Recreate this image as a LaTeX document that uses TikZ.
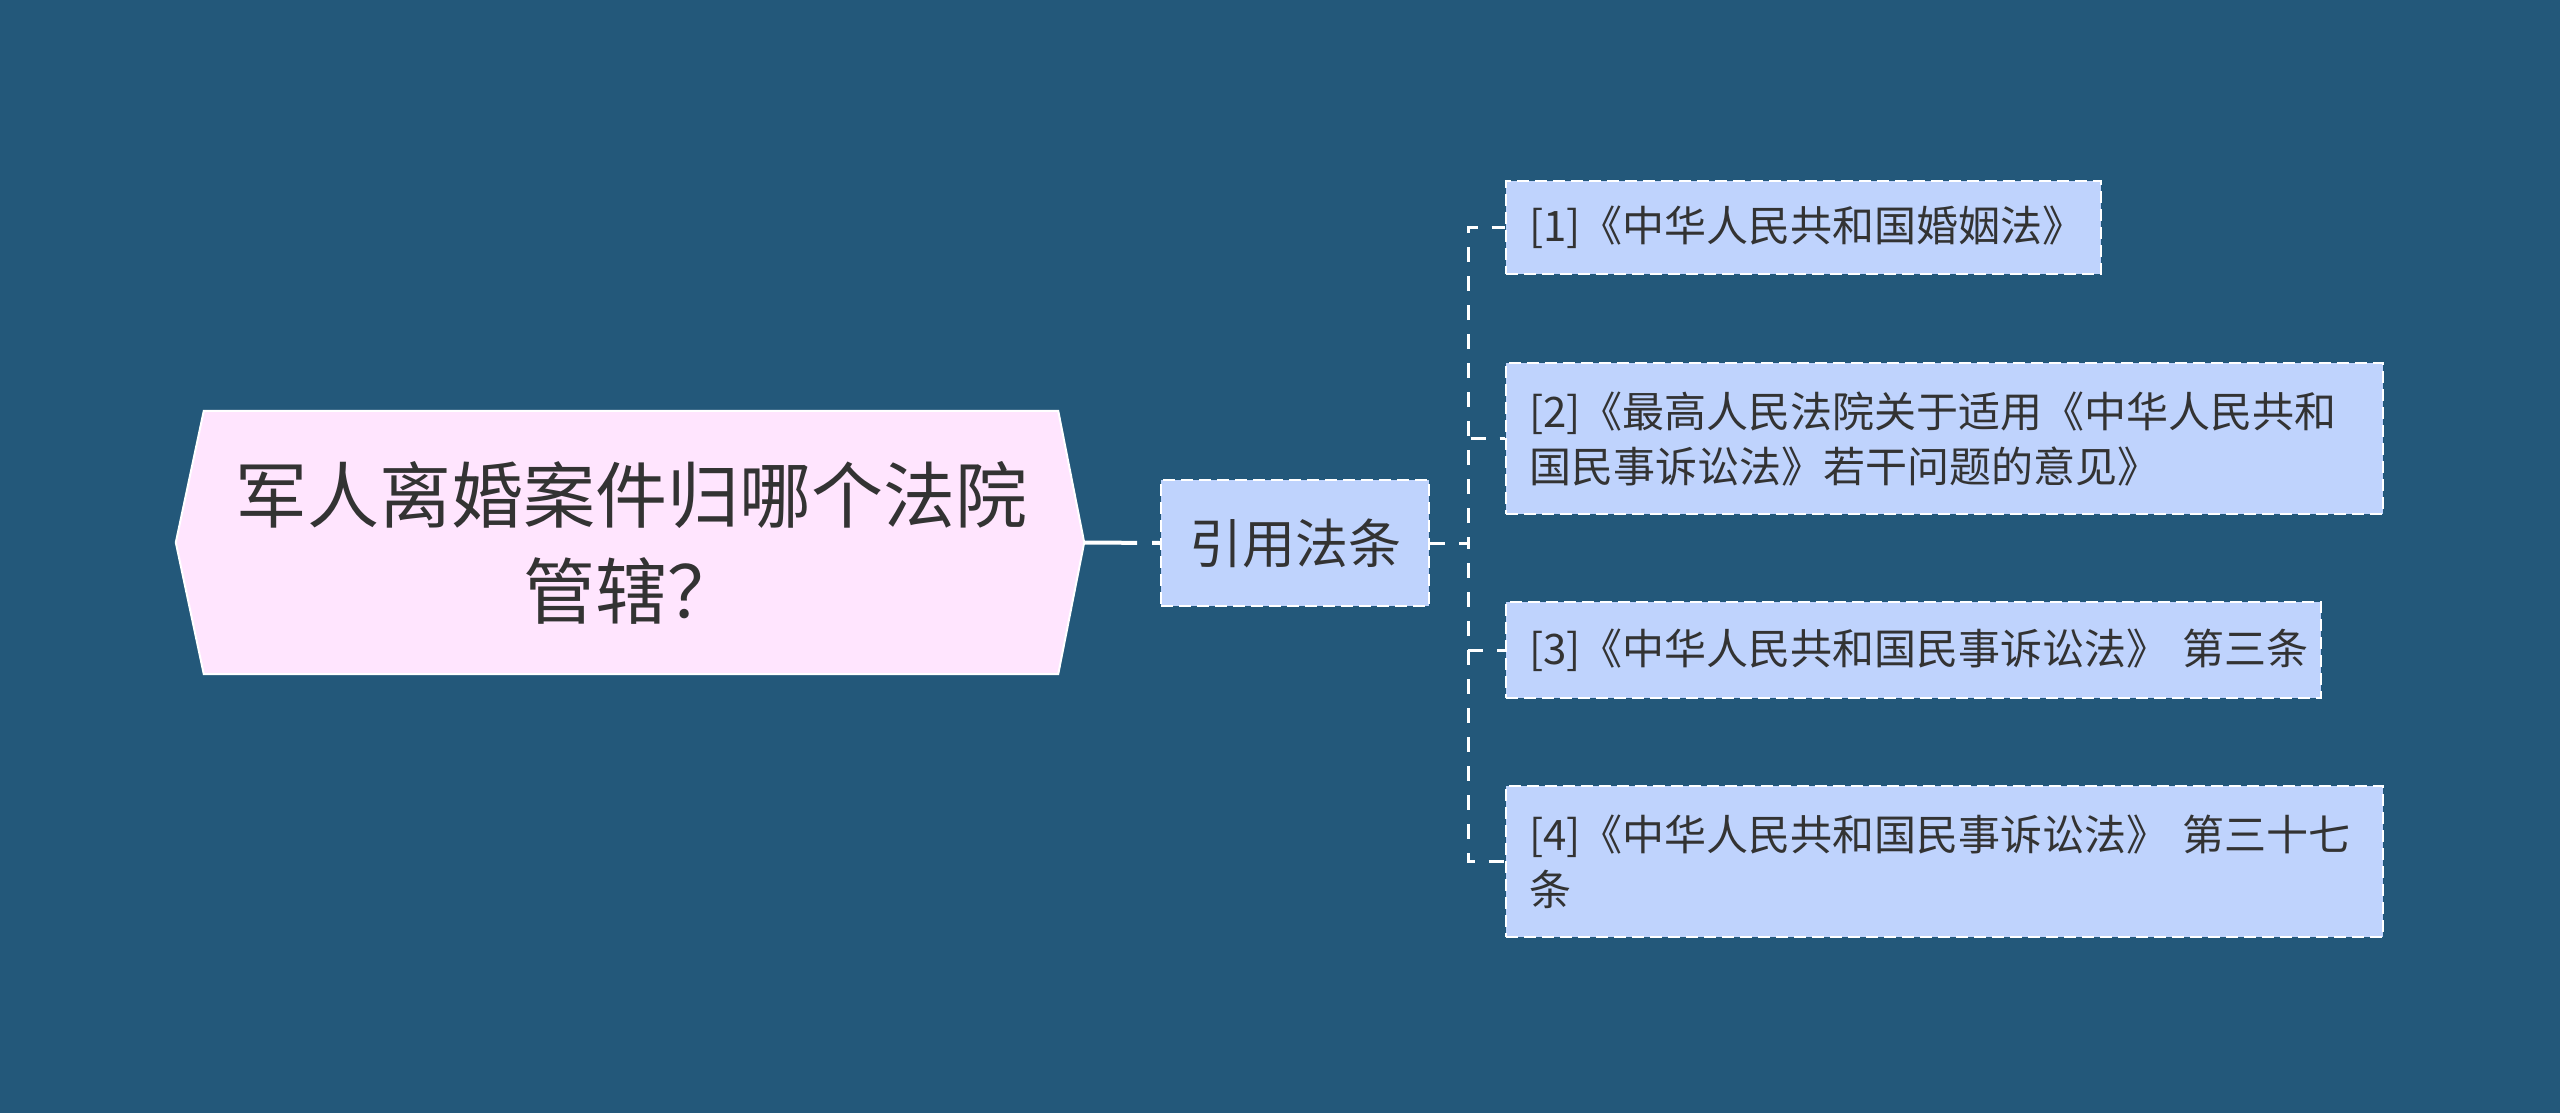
\documentclass[tikz,border=0pt]{standalone}
\usepackage{fontspec}
\newfontfamily\cjk{Noto Sans CJK SC}
\usetikzlibrary{calc}
\definecolor{bgc}{RGB}{35,88,122}
\definecolor{rootfill}{RGB}{255,229,254}
\definecolor{leaffill}{RGB}{191,211,253}
\definecolor{txt}{RGB}{51,51,51}
\tikzset{
  rootbox/.style={inner sep=0pt, minimum width=854pt, minimum height=263pt, align=center, text=txt,
    font=\cjk\fontsize{72}{96}\selectfont},
  midbox/.style={draw=white, fill=leaffill, line width=2pt, dash pattern=on 12pt off 6pt,
    minimum width=268pt, minimum height=126pt, inner sep=0pt, text=txt,
    font=\cjk\fontsize{53}{64}\selectfont},
  leafbox/.style={draw=white, fill=leaffill, line width=2pt, dash pattern=on 12pt off 6pt,
    anchor=north west, inner xsep=23pt, inner ysep=0pt, align=left, text=txt,
    font=\cjk\fontsize{42}{55}\selectfont},
  conn/.style={draw=white, line width=3pt, dash pattern=on 15pt off 14pt},
  rootconn/.style={draw=white, line width=4pt, dash pattern=on 53pt off 15pt}
}
\begin{document}
\begin{tikzpicture}[x=1pt,y=-1pt]
\useasboundingbox[fill=bgc] (0,0) rectangle (2560,1113);
% root
\node[rootbox] (root) at (631,542.5) {};
\coordinate (rootL) at ($(root.west)+(-28,0)$);
\coordinate (rootR) at ($(root.east)+(26,0)$);
\draw[fill=rootfill, draw=white, line width=2pt]
  (root.north west) -- (root.north east) -- (rootR) -- (root.south east)
  -- (root.south west) -- (rootL) -- cycle;
\node[rootbox] (roottext) at (root.center) {军人离婚案件归哪个法院\\管辖？};
% middle
\node[midbox] (mid) at (1295,543) {引用法条};
% leaves
\node[leafbox, text width=549pt, minimum height=93pt] (c1) at (1505,180) {[1]《中华人民共和国婚姻法》};
\node[leafbox, text width=831pt, minimum height=151pt] (c2) at (1505,362) {[2]《最高人民法院关于适用《中华人民共和\\国民事诉讼法》若干问题的意见》};
\node[leafbox, text width=769pt, minimum height=96pt] (c3) at (1505,601) {[3]《中华人民共和国民事诉讼法》~第三条};
\node[leafbox, text width=831pt, minimum height=151pt] (c4) at (1505,785) {[4]《中华人民共和国民事诉讼法》~第三十七\\条};
% connectors
\draw[rootconn] (rootR) -- (mid.west);
\coordinate (j) at (1468,543);
\foreach \c in {c1,c2,c3,c4}{
  \draw[conn] (mid.east) -- (j) |- (\c.west);
}
\end{tikzpicture}
\end{document}
